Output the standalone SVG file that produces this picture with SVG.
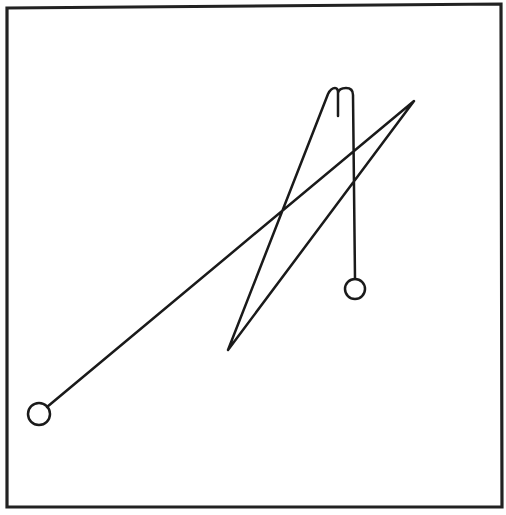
<svg xmlns="http://www.w3.org/2000/svg" width="506" height="515" viewBox="0 0 506 515">
<style>
.ln{fill:none;stroke:#1a1a1a;stroke-width:2.5;stroke-linecap:round;stroke-linejoin:round}
</style>
<rect width="506" height="515" fill="#fff"/>
<path d="M7,8 L501,4 L502,507 L7,507 Z" fill="none" stroke="#222" stroke-width="3.2"/>
<path class="ln" d="M47,407 L414,101 L228,350 L328,94 Q331,88 335,88 Q338,88 338,93 L338,116 M338,93 Q339,88 346,88 Q353,88 353,95 L355,279"/>
<circle class="ln" cx="355" cy="289" r="10"/>
<circle class="ln" cx="39" cy="414" r="11"/>
</svg>
